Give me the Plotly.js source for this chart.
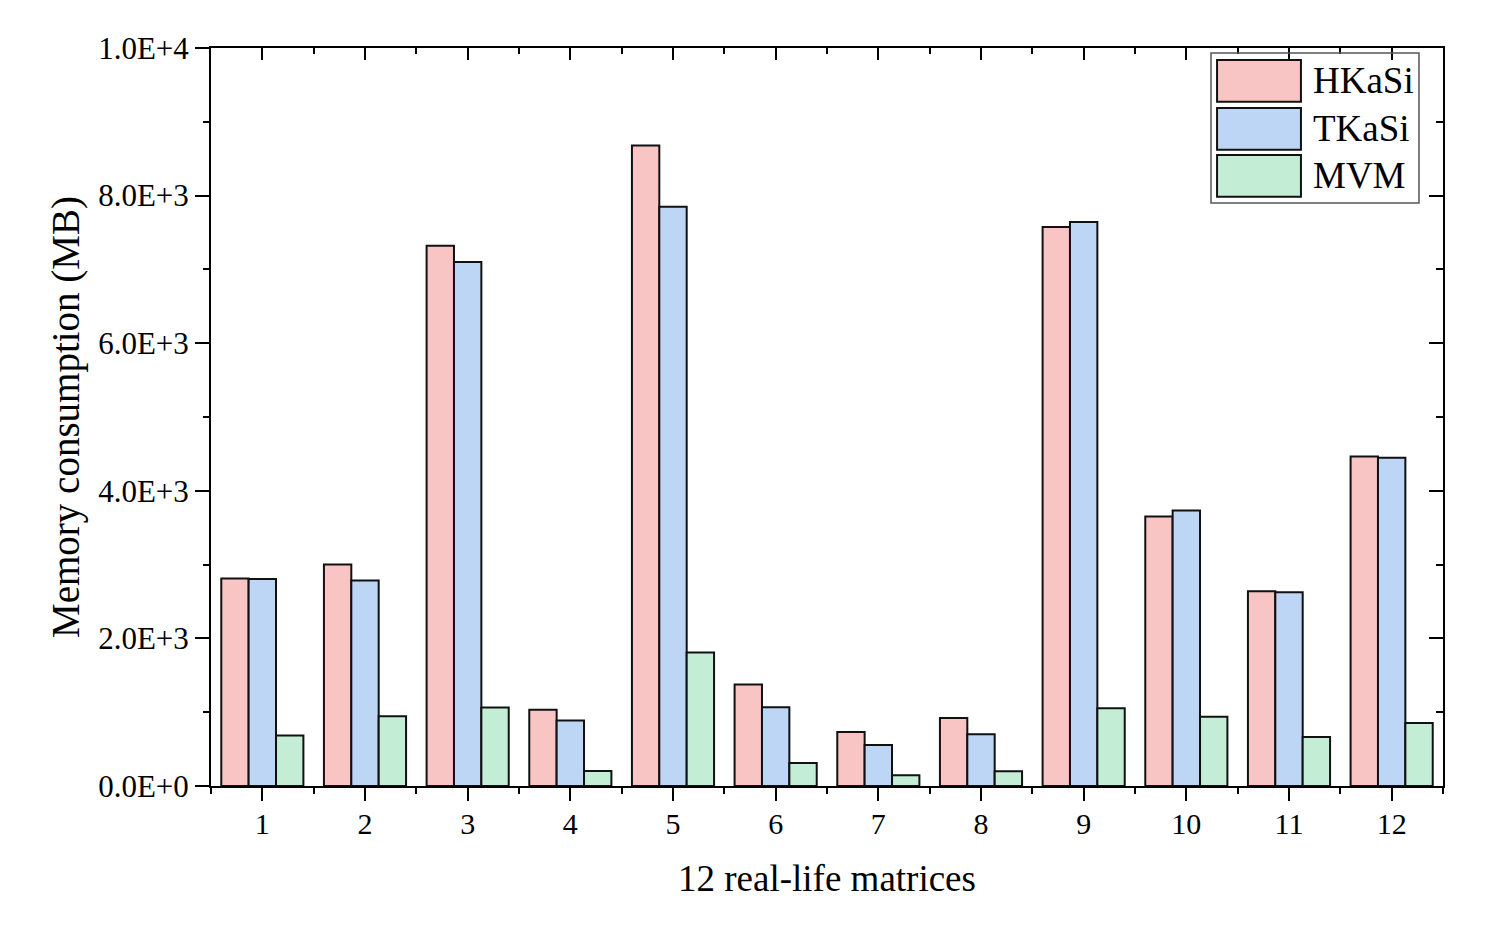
<!DOCTYPE html>
<html>
<head>
<meta charset="utf-8">
<script src="https://cdn.plot.ly/plotly-3.0.1.min.js"></script>
<style>
  html, body { margin: 0; padding: 0; background: #fff; }
  #chart { width: 1495px; height: 933px; }
</style>
</head>
<body>
<div id="chart"></div>
<script>
// values (MB)
var matrices = [1, 2, 3, 4, 5, 6, 7, 8, 9, 10, 11, 12];
var hkasi = [2810, 3000, 7320, 1032, 8678, 1375, 733, 923, 7574, 3651, 2638, 4466];
var tkasi = [2805, 2783, 7100, 887, 7850, 1068, 557, 702, 7642, 3733, 2624, 4448];
var mvm = [683, 946, 1063, 204, 1810, 312, 145, 199, 1055, 937, 665, 855];

var seriesNames = ['HKaSi', 'TKaSi', 'MVM'];
var seriesColors = ['#F9C4C4', '#BED6F5', '#C4EDD6'];
var yTickVals = [0, 2000, 4000, 6000, 8000, 10000];
var yTickLabels = ['0.0E+0', '2.0E+3', '4.0E+3', '6.0E+3', '8.0E+3', '1.0E+4'];

var font = 'Liberation Serif, Times New Roman, serif';

var traces = [hkasi, tkasi, mvm].map(function (vals, i) {
  return {
    type: 'bar',
    name: seriesNames[i],
    x: matrices,
    y: vals,
    marker: {color: seriesColors[i], line: {color: '#111', width: 2}},
    showlegend: false
  };
});
// empty trace so the top / right frame axes get drawn
traces.push({type: 'scatter', x: [], y: [], xaxis: 'x2', yaxis: 'y2', showlegend: false, hoverinfo: 'skip'});

// hand made legend (big swatches like the original)
var shapes = [{
  type: 'rect', xref: 'paper', yref: 'paper',
  x0: 0.8117, x1: 0.9805, y0: 0.790, y1: 0.9932,
  line: {color: '#555', width: 1.5}, fillcolor: 'rgba(0,0,0,0)'
}];
var annotations = [];
var rowTop = [0.9837, 0.9187, 0.855];
var rowH = 0.0565;
for (var i = 0; i < seriesNames.length; i++) {
  shapes.push({
    type: 'rect', xref: 'paper', yref: 'paper',
    x0: 0.8166, x1: 0.8847, y0: rowTop[i] - rowH, y1: rowTop[i],
    line: {color: '#111', width: 2}, fillcolor: seriesColors[i]
  });
  annotations.push({
    xref: 'paper', yref: 'paper', x: 0.8929, y: rowTop[i] - rowH / 2,
    xanchor: 'left', yanchor: 'middle', showarrow: false,
    text: seriesNames[i], font: {family: font, size: 37, color: '#000'}
  });
}

var layout = {
  width: 1495,
  height: 933,
  margin: {l: 211, r: 52, t: 48, b: 147},
  paper_bgcolor: '#fff',
  plot_bgcolor: '#fff',
  font: {family: font, color: '#000'},
  barmode: 'group',
  bargap: 0.2,
  bargroupgap: 0,
  xaxis: {
    range: [0.5, 12.5],
    tickmode: 'array',
    tickvals: matrices,
    ticks: 'outside', ticklen: 13, tickwidth: 2, tickcolor: '#000',
    minor: {tick0: 0.5, dtick: 1, ticks: 'outside', ticklen: 6, tickwidth: 2, tickcolor: '#000'},
    showline: true, linewidth: 2, linecolor: '#000',
    showgrid: false, zeroline: false,
    tickfont: {size: 30},
    ticklabelstandoff: -3,
    title: {text: '12 real-life matrices', font: {size: 37}, standoff: 26}
  },
  yaxis: {
    range: [0, 10000],
    tickmode: 'array',
    tickvals: yTickVals,
    ticktext: yTickLabels,
    ticks: 'outside', ticklen: 14, tickwidth: 2, tickcolor: '#000',
    minor: {dtick: 1000, ticks: 'outside', ticklen: 6, tickwidth: 2, tickcolor: '#000'},
    showline: true, linewidth: 2, linecolor: '#000',
    showgrid: false, zeroline: false,
    tickfont: {size: 31},
    title: {text: 'Memory consumption (MB)', font: {size: 39}, standoff: 6}
  },
  // mirrored frame with inward ticks
  xaxis2: {
    overlaying: 'x', side: 'top', anchor: 'y2', range: [0.5, 12.5],
    tickmode: 'array', tickvals: matrices, showticklabels: false,
    ticks: 'inside', ticklen: 12, tickwidth: 2, tickcolor: '#000',
    minor: {tick0: 0.5, dtick: 1, ticks: 'inside', ticklen: 6, tickwidth: 2, tickcolor: '#000'},
    showline: true, linewidth: 2, linecolor: '#000', showgrid: false, zeroline: false
  },
  yaxis2: {
    overlaying: 'y', side: 'right', anchor: 'x2', range: [0, 10000],
    tickmode: 'array', tickvals: yTickVals, showticklabels: false,
    ticks: 'inside', ticklen: 14, tickwidth: 2, tickcolor: '#000',
    minor: {dtick: 1000, ticks: 'inside', ticklen: 7, tickwidth: 2, tickcolor: '#000'},
    showline: true, linewidth: 2, linecolor: '#000', showgrid: false, zeroline: false
  },
  shapes: shapes,
  annotations: annotations
};

Plotly.newPlot('chart', traces, layout, {displayModeBar: false, staticPlot: true});
</script>
</body>
</html>
